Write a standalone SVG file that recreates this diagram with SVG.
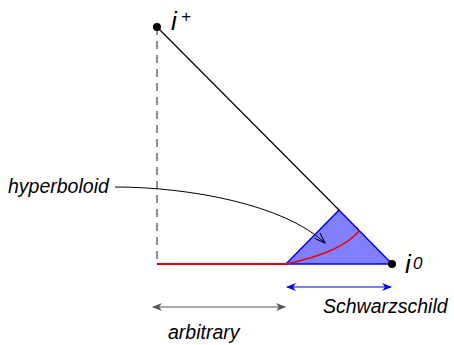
<svg xmlns="http://www.w3.org/2000/svg" width="454" height="345" viewBox="0 0 454 345">
<style>
text{font-family:"Liberation Sans",Arial,sans-serif;font-style:italic;fill:#000}
.lbl{font-size:19.5px}
.big{font-size:26px}
.sup{font-size:17px}
</style>
<defs>
<marker id="ab" viewBox="0 0 10 8" refX="9" refY="4" markerWidth="10" markerHeight="8" markerUnits="userSpaceOnUse" orient="auto-start-reverse"><path d="M0,0 L10,4 L0,8 L3,4 Z" fill="#0000ff"/></marker>
<marker id="ag" viewBox="0 0 10 8" refX="9" refY="4" markerWidth="10" markerHeight="8" markerUnits="userSpaceOnUse" orient="auto-start-reverse"><path d="M0,0 L10,4 L0,8 L3,4 Z" fill="#555"/></marker>
<marker id="ak" viewBox="0 0 12 8" refX="11" refY="4" markerWidth="12" markerHeight="8" markerUnits="userSpaceOnUse" orient="auto"><path d="M0,0 L11,4 L0,8" fill="none" stroke="#000" stroke-width="1"/></marker>
</defs>
<g id="region">
<polygon points="286,264 339,210 392,264" fill="#8080ff" stroke="#0000ff" stroke-width="1.5"/>
</g>
<g id="connectors">
<line x1="157" y1="27" x2="157" y2="264" stroke="#444" stroke-width="1.2" stroke-dasharray="8,6"/>
<line x1="157" y1="27" x2="339" y2="210" stroke="#000" stroke-width="1.2"/>
<line x1="157" y1="264" x2="286" y2="264" stroke="#dd0000" stroke-width="2"/>
<path d="M286,264 C315,258 345,248 359,231" fill="none" stroke="#ee0000" stroke-width="1.5"/>
<path d="M115,187 C190,187 285,205 325,243" fill="none" stroke="#000" stroke-width="1" marker-end="url(#ak)"/>
<line x1="287" y1="287" x2="391" y2="287" stroke="#0000ff" stroke-width="1.2" marker-start="url(#ab)" marker-end="url(#ab)"/>
<line x1="153" y1="307" x2="285" y2="307" stroke="#555" stroke-width="1.2" marker-start="url(#ag)" marker-end="url(#ag)"/>
</g>
<g id="iplus">
<circle cx="157" cy="27" r="4" fill="#000"/>
<text class="big" x="171" y="30">i</text><text class="sup" x="181" y="22">+</text>
</g>
<g id="izero">
<circle cx="392" cy="264" r="4" fill="#000"/>
<text class="big" x="405" y="273">i</text><text class="sup" x="413" y="269">0</text>
</g>
<g id="hyperboloid"><text class="lbl" x="8" y="193">hyperboloid</text></g>
<g id="schwarzschild"><text class="lbl" x="323" y="313">Schwarzschild</text></g>
<g id="arbitrary"><text class="lbl" x="168" y="339">arbitrary</text></g>
</svg>
